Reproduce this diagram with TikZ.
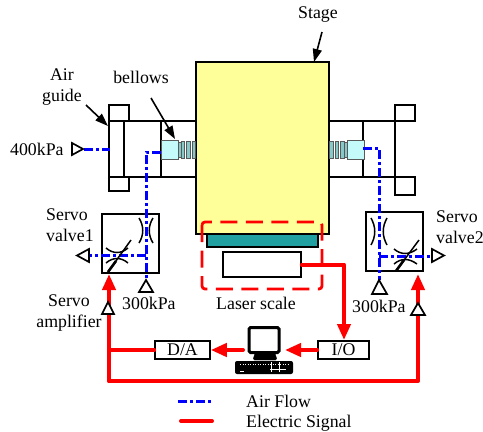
\documentclass[tikz,border=0pt]{standalone}
\usepackage{fontspec}
\setmainfont{Liberation Serif}
\usetikzlibrary{arrows.meta, calc}
\definecolor{stageyellow}{RGB}{255,255,153}
\definecolor{bellowcyan}{RGB}{196,250,250}
\definecolor{bellowgray}{RGB}{135,200,200}
\definecolor{scaleteal}{RGB}{32,160,160}
\definecolor{airblue}{RGB}{0,0,255}
\definecolor{signalred}{RGB}{255,0,0}

\begin{document}
\begin{tikzpicture}[x=1pt, y=-1pt,
    every node/.style={font=\fontsize{17.8}{21}\selectfont, inner sep=0pt, text=black},
    partline/.style={draw=black, line width=1.6pt},
    boxnode/.style={partline, fill=white},
    portline/.style={draw=black, line width=1.7pt, fill=white, line join=miter},
    airline/.style={draw=airblue, line width=3pt, dash pattern=on 9pt off 3pt on 3pt off 3pt},
    signalline/.style={draw=signalred, line width=4pt, line join=round, line cap=round},
    signalhead/.style={signalline, -{Triangle[length=16pt, width=13pt]}},
    callout/.style={draw=black, line width=1.6pt, -{Triangle[length=13pt, width=9pt]}},
    orifice/.style={draw=black, line width=1.5pt}]
  \useasboundingbox (0,0) rectangle (483,432);

  % Stage
  \draw[partline, fill=stageyellow] (196,62) rectangle (329,234);

  % Air guide left
  \draw[partline] (109,105) rectangle (129,121);
  \draw[partline] (109,177) rectangle (129,191);
  \draw[partline] (109,121) -- (109,177);
  \draw[partline] (124,121) rectangle (161,177);
  \draw[partline] (161,121) -- (196,121);
  \draw[partline] (161,177) -- (196,177);

  % Air guide right
  \draw[partline] (395,105) rectangle (415,121);
  \draw[partline] (395,177) rectangle (415,195);
  \draw[partline] (363,121) rectangle (395,177);
  \draw[partline] (329,121) -- (363,121);
  \draw[partline] (329,177) -- (363,177);

  % Bellows
  \foreach \mx/\sx in {0/1, 525/-1} {
    \begin{scope}[shift={(\mx,0)}, xscale=\sx, draw=black!65, line width=0.9pt]
      \draw[fill=bellowcyan] (161,140) rectangle (178,159);
      \draw[fill=bellowgray] (178,142) rectangle (181,157);
      \foreach \bx in {181,186.5,192} {
        \draw[fill=bellowgray] (\bx,141) rectangle (\bx+3.5,158);
      }
    \end{scope}
  }

  % Laser scale
  \draw[draw=black, line width=1.6pt, fill=scaleteal] (207,234) rectangle (318,247);
  \node[boxnode, minimum width=78pt, minimum height=25pt] (sensor) at (262,264.5) {};

  % Boxes
  \node[boxnode, minimum width=55pt, minimum height=18pt] (da) at (182.5,350) {D/A};
  \node[boxnode, minimum width=51pt, minimum height=18pt] (io) at (343.5,350) {I/O};
  \node[boxnode, minimum width=57pt, minimum height=59pt] (valveone) at (130.5,243.5) {};
  \node[boxnode, minimum width=57pt, minimum height=59pt] (valvetwo) at (394.5,241.5) {};

  % Computer
  \draw[fill=black, rounded corners=1.5pt] (255,353) -- (275,353) -- (277,360) -- (253,360) -- cycle;
  \node[draw=black, fill=white, line width=3pt, rounded corners=1.5pt, minimum width=30pt, minimum height=25pt] (monitor) at (264,340) {};
  \node[fill=black, rounded corners=2pt, minimum width=58pt, minimum height=13pt] (keyboard) at (264,367.5) {};
  \draw[white, line width=0.7pt, dash pattern=on 1pt off 1.5pt] (240,364) -- (288,364);
  \draw[white, line width=1pt] (271,362) -- (271,372) (279,362) -- (279,372) (270,369) -- (286,369);
  \draw[white, line width=1pt] (240,371) -- (244,371);

  % Air lines
  \coordinate (airin) at (84,149);
  \coordinate (airguide) at (110,149);
  \coordinate (airleft) at (161,152);
  \coordinate (airright) at (363,148);
  \coordinate (supplyone) at (146,280);
  \coordinate (supplytwo) at (379,280);
  \coordinate (ventone) at (89,255);
  \coordinate (venttwo) at (432,256);
  \draw[airline] (airin) -- (airguide);
  \draw[airline] (airleft) -| (supplyone);
  \draw[airline] (146,255) -- (ventone);
  \draw[airline] (airright) -| (supplytwo);
  \draw[airline] (379,256) -- (venttwo);

  % Orifices valve1
  \draw[orifice] (139,218) .. controls (144,226) and (144,235) .. (139,243);
  \draw[orifice] (153,218) .. controls (148,226) and (148,235) .. (153,243);
  \draw[orifice] (106,248) .. controls (113,254) and (121,254) .. (128,248);
  \draw[orifice] (106,263) .. controls (113,257) and (121,257) .. (128,263);
  \draw[orifice] (108,272) -- (131,240);
  \draw[draw=black, line width=2.6pt] (108,272) -- (116,261);

  % Orifices valve2
  \draw[orifice] (371,218) .. controls (376,227) and (376,236) .. (371,245);
  \draw[orifice] (387,218) .. controls (382,227) and (382,236) .. (387,245);
  \draw[orifice] (394,249) .. controls (401,255) and (409,255) .. (417,249);
  \draw[orifice] (394,264) .. controls (401,258) and (409,258) .. (417,264);
  \draw[orifice] (396,271) -- (419,240);
  \draw[draw=black, line width=2.6pt] (396,271) -- (404,260);

  % Signal lines
  \coordinate (cornerleft) at (109,381);
  \coordinate (cornerright) at (418,381);
  \coordinate (valveonein) at (109,274);
  \coordinate (valvetwoin) at (418,274);
  \coordinate (pcright) at (285,350);
  \coordinate (pcleft) at (243,350);
  \coordinate (iotop) at (344,340);
  \draw[signalhead] (cornerleft) -- (valveonein);
  \draw[signalhead] (cornerleft) -- (cornerright) -- (valvetwoin);
  \draw[signalline] (da.west) -- (109,350);
  \draw[signalhead] (pcleft) -- (da.east);
  \draw[signalhead] (io.west) -- (pcright);
  \draw[signalhead] (sensor.east) -| (iotop);

  % Dashed frame
  \draw[draw=signalred, line width=2.8pt, rounded corners=3pt, dash pattern=on 17pt off 8.5pt]
    (202,222) rectangle (322,289);

  % Ports
  \draw[portline] (72,143) -- (83,149) -- (72,155) -- cycle;
  \draw[portline] (89,249) -- (77,255.5) -- (89,262) -- cycle;
  \draw[portline] (146,280) -- (139,292) -- (153,292) -- cycle;
  \draw[portline] (379,280) -- (372,294) -- (387,294) -- cycle;
  \draw[portline] (432,249) -- (444,255.5) -- (432,262) -- cycle;
  \draw[portline] (108,302) -- (102,314) -- (114,314) -- cycle;
  \draw[portline] (418,303) -- (411,315) -- (425,315) -- cycle;

  % Labels
  \node (stagelabel) at (318,15) {Stage};
  \node[align=center] (airguidelabel) at (62,87) {Air\\guide};
  \node (bellowslabel) at (141,77) {bellows};
  \node[anchor=west] (supplylabel) at (10,149) {400kPa};
  \node[align=left, anchor=west] (servoone) at (46,225) {Servo\\valve1};
  \node[align=left, anchor=west] (servotwo) at (436,227) {Servo\\valve2};
  \node[align=center] (amplabel) at (69,313) {Servo\\amplifier};
  \node[anchor=west] (kpaone) at (122,303) {300kPa};
  \node[anchor=west] (kpatwo) at (352,306) {300kPa};
  \node (laserlabel) at (256,303) {Laser scale};

  % Callouts
  \coordinate (stagetail) at (322,32);
  \coordinate (stagetip) at (314,62);
  \coordinate (guidetail) at (86,105);
  \coordinate (guidetip) at (108,126);
  \coordinate (bellowstail) at (151,98);
  \coordinate (bellowstip) at (175,139);
  \draw[callout] (stagetail) -- (stagetip);
  \draw[callout] (guidetail) -- (guidetip);
  \draw[callout] (bellowstail) -- (bellowstip);

  % Legend
  \coordinate (airkeya) at (178,401);
  \coordinate (airkeyb) at (213,401);
  \coordinate (sigkeya) at (181,421);
  \coordinate (sigkeyb) at (212,421);
  \draw[airline] (airkeya) -- (airkeyb);
  \draw[signalline] (sigkeya) -- (sigkeyb);
  \node[anchor=base west] (airkey) at (246,407) {Air Flow};
  \node[anchor=base west] (sigkey) at (246,427) {Electric Signal};
\end{tikzpicture}
\end{document}
